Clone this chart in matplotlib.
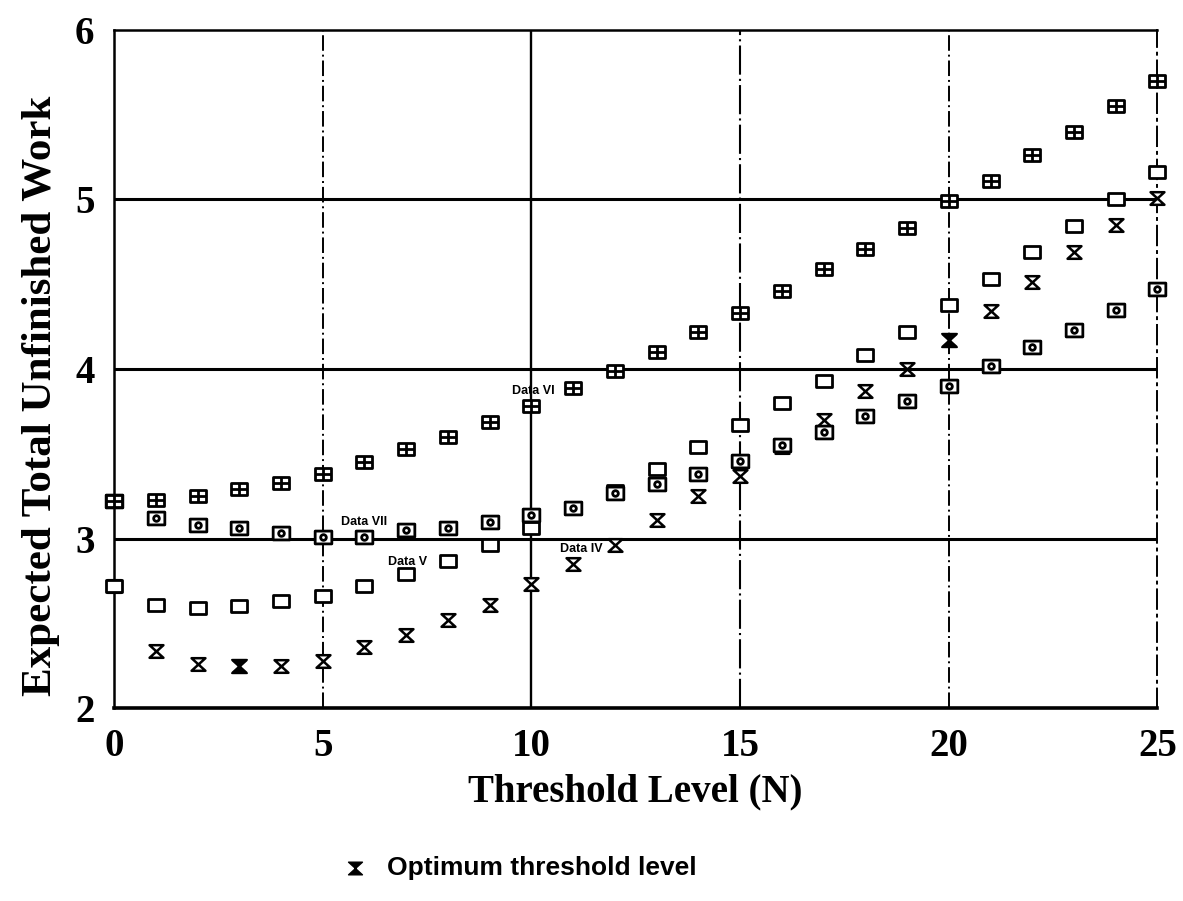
import matplotlib
matplotlib.use("Agg")
import matplotlib.pyplot as plt
from matplotlib.path import Path
import numpy as np

# threshold levels
n_levels = list(range(26))

# expected total unfinished work
data_vi = [3.22, 3.23, 3.25, 3.29, 3.33, 3.38, 3.45, 3.53, 3.60, 3.69, 3.78, 3.89, 3.99,
           4.10, 4.22, 4.33, 4.46, 4.59, 4.71, 4.83, 4.99, 5.11, 5.26, 5.40, 5.55, 5.70]
data_vii = [3.22, 3.12, 3.08, 3.06, 3.03, 3.01, 3.01, 3.05, 3.06, 3.10, 3.14, 3.18, 3.27,
            3.32, 3.38, 3.46, 3.55, 3.63, 3.72, 3.81, 3.90, 4.02, 4.13, 4.23, 4.35, 4.47]
data_v = [2.72, 2.61, 2.59, 2.60, 2.63, 2.66, 2.72, 2.79, 2.87, 2.96, 3.06, 3.18, 3.28,
          3.41, 3.54, 3.67, 3.80, 3.93, 4.08, 4.22, 4.38, 4.53, 4.69, 4.84, 5.00, 5.16]
data_iv = [2.72, 2.34, 2.26, 2.25, 2.25, 2.28, 2.36, 2.43, 2.52, 2.61, 2.73, 2.85, 2.96,
           3.11, 3.25, 3.37, 3.54, 3.70, 3.87, 4.00, 4.17, 4.34, 4.51, 4.69, 4.85, 5.01]

# optimum threshold levels (filled hourglass)
opt_n = [3, 20]
opt_y = [2.25, 4.17]

x_ticks = [0, 5, 10, 15, 20, 25]
y_ticks = [2, 3, 4, 5, 6]

# marker shapes
w, h = 0.65, 0.5
rect_v = [(-w, -h), (w, -h), (w, h), (-w, h), (-w, -h)]
rect_c = [Path.MOVETO, Path.LINETO, Path.LINETO, Path.LINETO, Path.CLOSEPOLY]
rect = Path(rect_v, rect_c)
cross = Path([(-w, 0), (w, 0), (0, -h), (0, h)],
             [Path.MOVETO, Path.LINETO, Path.MOVETO, Path.LINETO])
box_plus = Path.make_compound_path(rect, cross)
ring = Path.circle((0, 0), 0.22)
box_ring = Path.make_compound_path(rect, ring)
hourglass = Path([(-0.55, 0.5), (0.55, 0.5), (-0.55, -0.5), (0.55, -0.5), (-0.55, 0.5)],
                 [Path.MOVETO, Path.LINETO, Path.LINETO, Path.LINETO, Path.CLOSEPOLY])

fig = plt.figure(figsize=(11.83, 9.01), dpi=100)
ax = fig.add_axes([0.0964, 0.214, 0.882, 0.753])

ax.set_xlim(0, 25)
ax.set_ylim(2, 6)

# grid lines
for yv in [3, 4, 5]:
    ax.axhline(yv, color='black', linewidth=2.2, zorder=1)
ax.axvline(5, color='black', linewidth=1.4, linestyle=(0, (8, 2, 1, 2)), zorder=1)
ax.axvline(10, color='black', linewidth=1.7, zorder=1)
ax.axvline(15, color='black', linewidth=1.5, linestyle=(0, (14, 2, 1, 2)), zorder=1)
ax.axvline(20, color='black', linewidth=1.4, linestyle=(0, (8, 2, 1, 2)), zorder=1)

for side in ['top', 'bottom', 'left', 'right']:
    ax.spines[side].set_linewidth(1.8)
ax.spines['bottom'].set_linewidth(2.6)
ax.spines['right'].set_linestyle((0, (10, 3, 1, 3)))
ax.spines['right'].set_linewidth(1.4)

mk = dict(linestyle='none', color='black', markerfacecolor='white', markeredgecolor='black',
          clip_on=False, zorder=3)
ax.plot(n_levels, data_iv, marker=hourglass, markersize=10, markeredgewidth=1.8, **mk)
ax.plot(n_levels, data_v, marker=rect, markersize=12, markeredgewidth=2.0, **mk)
ax.plot(n_levels, data_vii, marker=box_ring, markersize=12, markeredgewidth=2.0, **mk)
ax.plot(n_levels, data_vi, marker=box_plus, markersize=12, markeredgewidth=2.0, **mk)
ax.plot(opt_n, opt_y, linestyle='none', marker=hourglass, markersize=11,
        color='black', clip_on=False, zorder=4)

# series labels
lab = dict(fontsize=9, fontweight='bold', family='Liberation Sans', va='center', zorder=5)
ax.text(10.55, 3.87, 'Data VI', ha='right', **lab)
ax.text(6.0, 3.10, 'Data VII', ha='center', **lab)
ax.text(7.5, 2.86, 'Data V', ha='right', **lab)
ax.text(11.7, 2.94, 'Data IV', ha='right', **lab)

ax.set_xticks(x_ticks)
ax.set_yticks(y_ticks)
ax.tick_params(length=0, labelsize=28)
ax.tick_params(axis='x', pad=14)
ax.tick_params(axis='y', pad=14)
for t in ax.get_xticklabels() + ax.get_yticklabels():
    t.set_family('Liberation Serif')
    t.set_fontweight('bold')

ax.set_xlabel('Threshold Level (N)', fontsize=28, family='Liberation Serif',
              fontweight='bold', labelpad=6)
ax.set_ylabel('Expected Total Unfinished Work', fontsize=31, family='Liberation Serif',
              fontweight='bold')
ax.yaxis.set_label_coords(-0.052, 0.46)

# legend for the optimum marker
fig.lines.append(plt.Line2D([0.300], [0.037], transform=fig.transFigure, linestyle='none',
                            marker=hourglass, markersize=10, color='black'))
fig.text(0.327, 0.037, 'Optimum threshold level', fontsize=19, family='Liberation Sans',
         fontweight='bold', va='center', ha='left')

fig.savefig('out.png', dpi=100)
